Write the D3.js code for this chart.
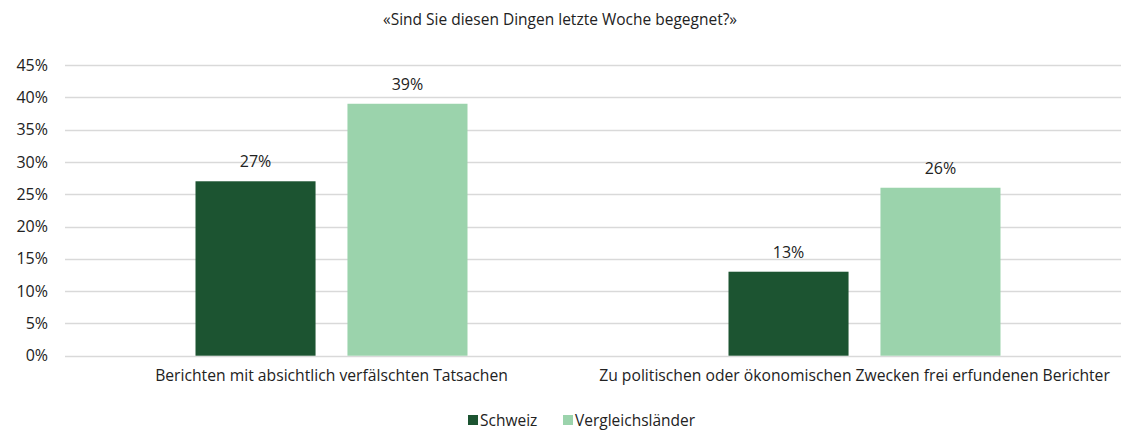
<!DOCTYPE html>
<html><head><meta charset="utf-8">
<script src="https://cdn.jsdelivr.net/npm/d3@7"></script>
<style>body{margin:0;background:#fff}svg{display:block}text{font-family:"Open Sans",sans-serif;fill:#222}</style>
</head><body><svg id="c" width="1121" height="430"></svg>
<script>
const title = "«Sind Sie diesen Dingen letzte Woche begegnet?»";
const categories = ["Berichten mit absichtlich verfälschten Tatsachen", "Zu politischen oder ökonomischen Zwecken frei erfundenen Berichter"];
const seriesNames = ["Schweiz", "Vergleichsländer"];
const schweiz = [27, 13];
const vergleich = [39, 26];
const yTicks = [0, 5, 10, 15, 20, 25, 30, 35, 40, 45];
const colors = ["#1c5431", "#9bd3ac"];

const svg = d3.select("#c");
const W = 1121, H = 430;
const m = {left: 65, right: -10, top: 65, bottom: 74};
const x0 = d3.scaleBand().domain(categories).range([m.left, W - m.right]).paddingInner(0).paddingOuter(0);
const x1 = d3.scaleBand().domain(seriesNames).range([130.5, 533 - 130.5]).paddingInner(0.21).paddingOuter(0);
const y = d3.scaleLinear().domain([0, 45]).range([H - m.bottom - 0.3, m.top]);

svg.append("text").attr("x", 560).attr("y", 25).attr("text-anchor", "middle").style("font-size", "15.5px").text(title);

const yAxis = d3.axisLeft(y).tickValues(yTicks).tickFormat(d => d + "%").tickSize(0).tickPadding(14);
const gy = svg.append("g").attr("transform", `translate(${m.left},0)`).call(yAxis);
gy.select(".domain").remove();
gy.selectAll("text").style("font-size", "16px").attr("fill", "#222").style("font-family", '"Open Sans",sans-serif').attr("x", -17);
svg.append("g").selectAll("line").data(yTicks).join("line")
  .attr("x1", m.left).attr("x2", W).attr("y1", d => Math.round(y(d)) + 0.5).attr("y2", d => Math.round(y(d)) + 0.5)
  .attr("stroke", "#d9d9d9").attr("stroke-width", 1.3);

const data = categories.map((c, i) => ({c, vals: [schweiz[i], vergleich[i]]}));
const g = svg.append("g").selectAll("g").data(data).join("g").attr("transform", d => `translate(${x0(d.c)},0)`);
g.selectAll("rect").data(d => d.vals.map((v, j) => ({v, s: seriesNames[j], j}))).join("rect")
  .attr("x", d => x1(d.s)).attr("width", x1.bandwidth())
  .attr("y", d => y(d.v)).attr("height", d => y(0) - y(d.v)).attr("fill", d => colors[d.j]);
g.selectAll("text.lab").data(d => d.vals.map((v, j) => ({v, s: seriesNames[j], j}))).join("text")
  .attr("class", "lab").attr("x", d => x1(d.s) + x1.bandwidth() / 2).attr("y", d => y(d.v) - 14)
  .attr("text-anchor", "middle").style("font-size", "16px").text(d => d.v + "%");

const xAxis = d3.axisBottom(x0).tickSize(0).tickPadding(14);
const gx = svg.append("g").attr("transform", `translate(0,${y(0)})`).call(xAxis);
gx.select(".domain").remove();
gx.selectAll("text").style("font-size", "15.7px").attr("fill", "#222").style("font-family", '"Open Sans",sans-serif')
  .attr("x", (d, i) => i === 0 ? 0 : -10);

const leg = svg.append("g").attr("transform", "translate(468,420)");
const lx = [0, 95];
seriesNames.forEach((s, i) => {
  leg.append("rect").attr("x", lx[i]).attr("y", -5).attr("width", 10).attr("height", 10).attr("fill", colors[i]);
  leg.append("text").attr("x", lx[i] + 12).attr("y", 5.5).style("font-size", "15.5px").text(s);
});
</script></body></html>
